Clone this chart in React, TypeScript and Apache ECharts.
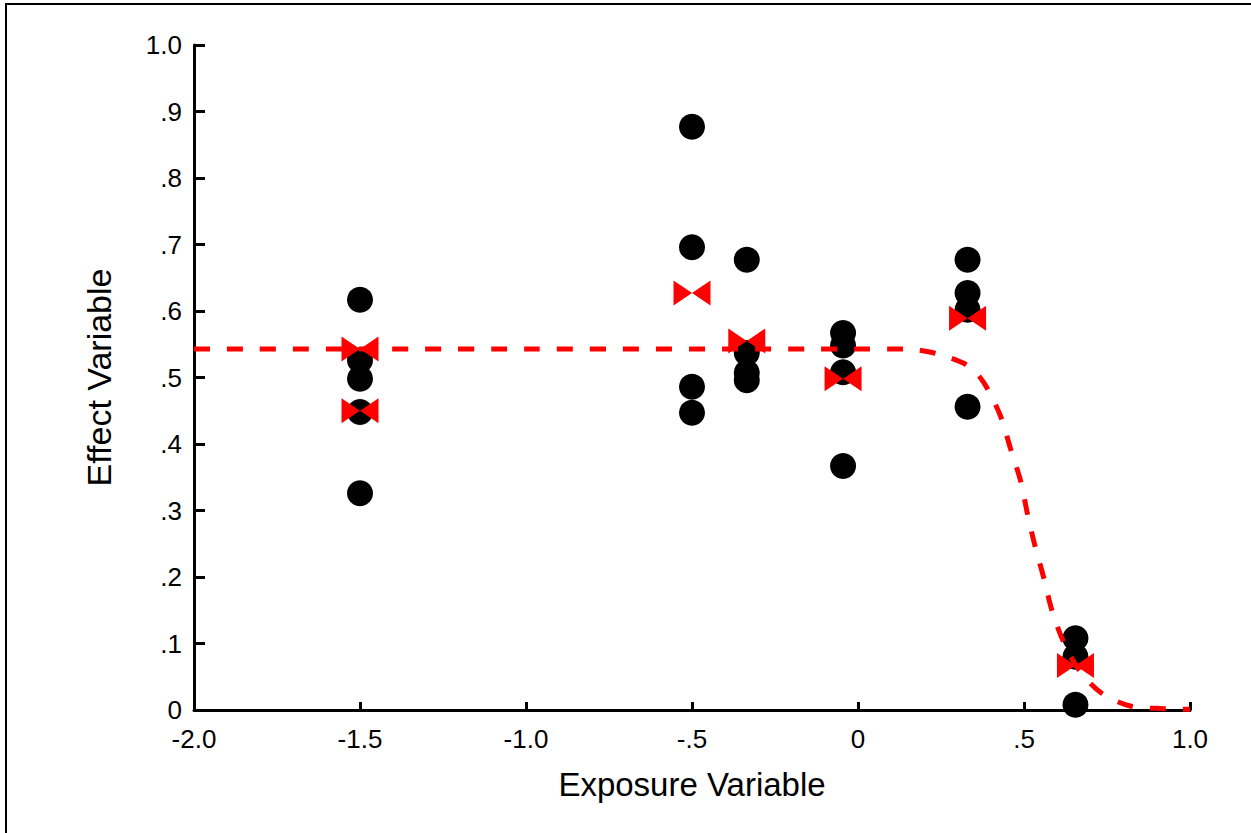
import React, { useEffect, useRef } from "react";
import * as echarts from "echarts";

const observedPoints: [number, number][] = [
  [-1.5, 0.617], [-1.5, 0.526], [-1.5, 0.498], [-1.5, 0.448], [-1.5, 0.326],
  [-0.5, 0.877], [-0.5, 0.696], [-0.5, 0.486], [-0.5, 0.447],
  [-0.335, 0.677], [-0.335, 0.537], [-0.335, 0.507], [-0.335, 0.496],
  [-0.045, 0.567], [-0.045, 0.548], [-0.045, 0.508], [-0.045, 0.367],
  [0.33, 0.677], [0.33, 0.627], [0.33, 0.602], [0.33, 0.456],
  [0.655, 0.108], [0.655, 0.080], [0.655, 0.008],
];

const groupMeans: [number, number][] = [
  [-1.5, 0.543], [-1.5, 0.45], [-0.5, 0.627], [-0.335, 0.555],
  [-0.045, 0.498], [0.33, 0.589], [0.655, 0.067],
];

const fittedCurve: [number, number][] = [
  [-2.0, 0.543], [-1.0, 0.543], [0.0, 0.543], [0.1, 0.543], [0.17, 0.542],
  [0.22, 0.538], [0.27, 0.531], [0.32, 0.521], [0.36, 0.505], [0.39, 0.483],
  [0.43, 0.441], [0.46, 0.392], [0.49, 0.344], [0.51, 0.296], [0.533, 0.247],
  [0.56, 0.198], [0.584, 0.15], [0.617, 0.105], [0.666, 0.06], [0.732, 0.026],
  [0.82, 0.006], [0.92, 0.002], [1.0, 0.001],
];

const xTickValues = [-2, -1.5, -1, -0.5, 0, 0.5, 1];
const xTickLabels = ["-2.0", "-1.5", "-1.0", "-.5", "0", ".5", "1.0"];
const yTickValues = [0, 0.1, 0.2, 0.3, 0.4, 0.5, 0.6, 0.7, 0.8, 0.9, 1.0];
const yTickLabels = ["0", ".1", ".2", ".3", ".4", ".5", ".6", ".7", ".8", ".9", "1.0"];

const FONT = "'Liberation Sans', Arial, sans-serif";

function lookup(values: number[], labels: string[], v: number): string {
  for (let i = 0; i < values.length; i++) {
    if (Math.abs(values[i] - v) < 1e-6) return labels[i];
  }
  return "";
}

export default function App() {
  const ref = useRef<HTMLDivElement>(null);
  useEffect(() => {
    if (!ref.current) return;
    const chart = echarts.init(ref.current, null, { renderer: "svg" });
    chart.setOption({
      animation: false,
      backgroundColor: "#fff",
      grid: { left: 194, right: 61, top: 45, bottom: 123 },
      graphic: [
        {
          type: "rect",
          shape: { x: 6, y: 4, width: 1400, height: 1000 },
          style: { fill: "none", stroke: "#000", lineWidth: 2 },
          silent: true,
        },
      ],
      xAxis: {
        type: "value",
        min: -2,
        max: 1,
        interval: 0.5,
        name: "Exposure Variable",
        nameLocation: "middle",
        nameGap: 58,
        nameTextStyle: { fontFamily: FONT, fontSize: 33, color: "#000" },
        splitLine: { show: false },
        axisLine: { onZero: false, lineStyle: { color: "#000", width: 3 } },
        axisTick: { inside: true, length: 8, lineStyle: { color: "#000", width: 3 } },
        axisLabel: {
          margin: 16,
          fontFamily: FONT,
          fontSize: 26,
          color: "#000",
          formatter: (v: number) => lookup(xTickValues, xTickLabels, v),
        },
      },
      yAxis: {
        type: "value",
        min: 0,
        max: 1,
        interval: 0.1,
        name: "Effect Variable",
        nameLocation: "middle",
        nameGap: 78,
        nameTextStyle: { fontFamily: FONT, fontSize: 34, color: "#000" },
        splitLine: { show: false },
        axisLine: { onZero: false, lineStyle: { color: "#000", width: 3 } },
        axisTick: { inside: true, length: 11, lineStyle: { color: "#000", width: 3 } },
        axisLabel: {
          margin: 12,
          fontFamily: FONT,
          fontSize: 26,
          color: "#000",
          formatter: (v: number) => lookup(yTickValues, yTickLabels, v),
        },
      },
      series: [
        {
          type: "scatter",
          data: observedPoints,
          symbol: "circle",
          symbolSize: 26,
          itemStyle: { color: "#000", opacity: 1 },
          z: 2,
        },
        {
          type: "line",
          data: fittedCurve,
          showSymbol: false,
          symbol: "none",
          smooth: 0.3,
          lineStyle: { color: "#ff0000", width: 5, type: [16, 17] },
          z: 3,
        },
        {
          type: "scatter",
          data: groupMeans,
          symbol: "path://M0,0L18,12L0,24ZM36,0L18,12L36,24Z",
          symbolSize: [37, 25],
          itemStyle: { color: "#ff0000", opacity: 1 },
          z: 4,
        },
      ],
    });
    return () => chart.dispose();
  }, []);
  return (
    <div
      ref={ref}
      style={{ position: "fixed", left: 0, top: 0, width: 1251, height: 833 }}
    />
  );
}
